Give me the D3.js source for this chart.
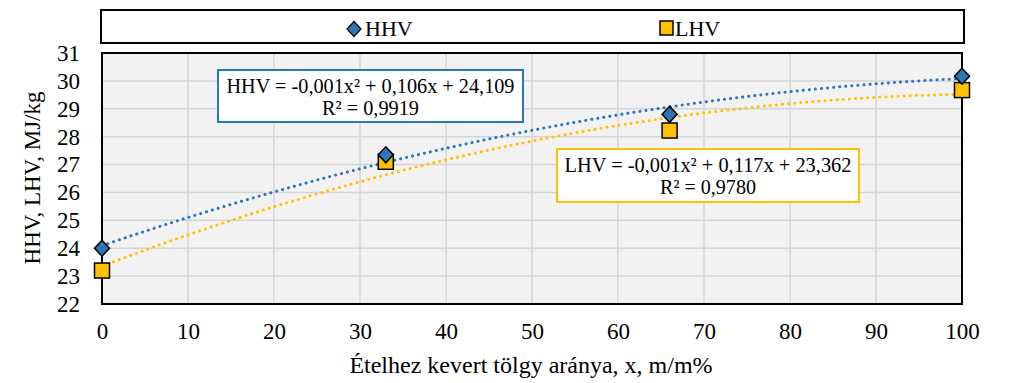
<!DOCTYPE html>
<html><head><meta charset="utf-8">
<script src="https://cdn.jsdelivr.net/npm/d3@7"></script>
<style>body{margin:0;background:#fff}svg{display:block}svg text{font-family:"Liberation Serif","Times New Roman","DejaVu Serif",serif !important;fill:#000}</style>
</head><body><svg id="c" width="1024" height="383"></svg>
<script>
const xValues = [0, 33, 66, 100];
const hhvValues = [24.0, 27.35, 28.8, 30.17];
const lhvValues = [23.2, 27.1, 28.22, 29.67];
const xTicks = [0,10,20,30,40,50,60,70,80,90,100];
const yTicks = [22,23,24,25,26,27,28,29,30,31];
const seriesNames = ["HHV","LHV"];
const hhvEq = ["HHV = -0,001x² + 0,106x + 24,109","R² = 0,9919"];
const lhvEq = ["LHV = -0,001x² + 0,117x + 23,362","R² = 0,9780"];

const svg = d3.select("#c");
const L=102, R=962, T=53, B=304;
const x = d3.scaleLinear().domain([0,100]).range([L,R]);
const y = d3.scaleLinear().domain([22,31]).range([B,T]);
const blue="#2E75B6", gold="#FFC000";
const FS = 23;

function quadFit(xs, ys){
  const n=xs.length; let S=[0,0,0,0,0], Sy=[0,0,0];
  for(let i=0;i<n;i++){for(let k=0;k<5;k++)S[k]+=Math.pow(xs[i],k);for(let k=0;k<3;k++)Sy[k]+=ys[i]*Math.pow(xs[i],k);}
  const M=[[S[0],S[1],S[2],Sy[0]],[S[1],S[2],S[3],Sy[1]],[S[2],S[3],S[4],Sy[2]]];
  for(let i=0;i<3;i++){for(let j=i+1;j<3;j++){const f=M[j][i]/M[i][i];for(let k=i;k<4;k++)M[j][k]-=f*M[i][k];}}
  const c=[0,0,0];
  for(let i=2;i>=0;i--){let s=M[i][3];for(let k=i+1;k<3;k++)s-=M[i][k]*c[k];c[i]=s/M[i][i];}
  return xv=>c[0]+c[1]*xv+c[2]*xv*xv;
}

svg.append("rect").attr("x",L).attr("y",T).attr("width",R-L).attr("height",B-T).attr("fill","#f2f2f2");
svg.append("g").selectAll("line").data(xTicks.slice(1,-1)).join("line")
  .attr("x1",d=>x(d)).attr("x2",d=>x(d)).attr("y1",T).attr("y2",B).attr("stroke","#d4d4d4").attr("stroke-width",1.5);
svg.append("g").selectAll("line").data(yTicks.slice(1,-1)).join("line")
  .attr("y1",d=>y(d)).attr("y2",d=>y(d)).attr("x1",L).attr("x2",R).attr("stroke","#d4d4d4").attr("stroke-width",1.5);

const xa = d3.axisBottom(x).tickValues(xTicks).tickSize(0).tickPadding(19);
const gx = svg.append("g").attr("transform",`translate(0,${B})`).call(xa);
gx.attr("font-family","Liberation Serif").attr("font-size",FS);
gx.select(".domain").remove();
const ya = d3.axisLeft(y).tickValues(yTicks).tickSize(0).tickPadding(22);
const gy = svg.append("g").attr("transform",`translate(${L},0)`).call(ya);
gy.attr("font-family","Liberation Serif").attr("font-size",FS);
gy.select(".domain").remove();

svg.append("rect").attr("x",L).attr("y",T).attr("width",R-L).attr("height",B-T).attr("fill","none").attr("stroke","#000").attr("stroke-width",2);

const xs = d3.range(0,100.01,1);
[[hhvValues,blue],[lhvValues,gold]].forEach(([vals,col])=>{
  const f = quadFit(xValues, vals);
  svg.append("path").datum(xs).attr("fill","none").attr("stroke",col).attr("stroke-width",3)
    .attr("stroke-dasharray","0.1 6").attr("stroke-linecap","round")
    .attr("d",d3.line().x(d=>x(d)).y(d=>y(f(d))));
});

svg.append("g").selectAll("rect").data(xValues.map((d,i)=>[d,lhvValues[i]])).join("rect")
  .attr("x",d=>x(d[0])-7.5).attr("y",d=>y(d[1])-7.5).attr("width",15).attr("height",15)
  .attr("fill",gold).attr("stroke","#000").attr("stroke-width",1.5);
svg.append("g").selectAll("path").data(xValues.map((d,i)=>[d,hhvValues[i]])).join("path")
  .attr("d","M0,-8L7.5,0L0,8L-7.5,0Z").attr("transform",d=>`translate(${x(d[0])},${y(d[1])})`)
  .attr("fill",blue).attr("stroke","#000").attr("stroke-width",1.5);

function eqBox(x0,y0,w,h,lines,lens,col){
  svg.append("rect").attr("x",x0).attr("y",y0).attr("width",w).attr("height",h).attr("fill","#fff").attr("stroke",col).attr("stroke-width",2);
  lines.forEach((t,i)=>svg.append("text").attr("x",x0+w/2).attr("y",y0+23+i*22).attr("text-anchor","middle")
    .attr("font-family","Liberation Serif").attr("font-size",21)
    .attr("textLength",lens[i]).attr("lengthAdjust","spacingAndGlyphs").text(t));
}
eqBox(218,70,305,52,hhvEq,[288,97],blue);
eqBox(557,149,302,53,lhvEq,[287,96],gold);

svg.append("rect").attr("x",101).attr("y",10).attr("width",863).attr("height",33).attr("fill","#fff").attr("stroke","#000").attr("stroke-width",2);
const lg = svg.append("g");
lg.append("path").attr("d","M0,-7.5L7,0L0,7.5L-7,0Z").attr("transform","translate(354,29)").attr("fill",blue).attr("stroke","#000").attr("stroke-width",1.2);
lg.append("text").attr("x",365).attr("y",36).attr("font-family","Liberation Serif").attr("font-size",22).text(seriesNames[0]);
lg.append("rect").attr("x",660).attr("y",21).attr("width",13).attr("height",14).attr("fill",gold).attr("stroke","#000").attr("stroke-width",1.5);
lg.append("text").attr("x",675).attr("y",36).attr("font-family","Liberation Serif").attr("font-size",22).text(seriesNames[1]);

svg.append("text").attr("transform","translate(40,178) rotate(-90)").attr("text-anchor","middle").attr("font-family","Liberation Serif").attr("font-size",23).text("HHV, LHV, MJ/kg");
svg.append("text").attr("x",531).attr("y",373).attr("text-anchor","middle").attr("font-family","Liberation Serif").attr("font-size",24).text("Ételhez kevert tölgy aránya, x, m/m%");
</script></body></html>
